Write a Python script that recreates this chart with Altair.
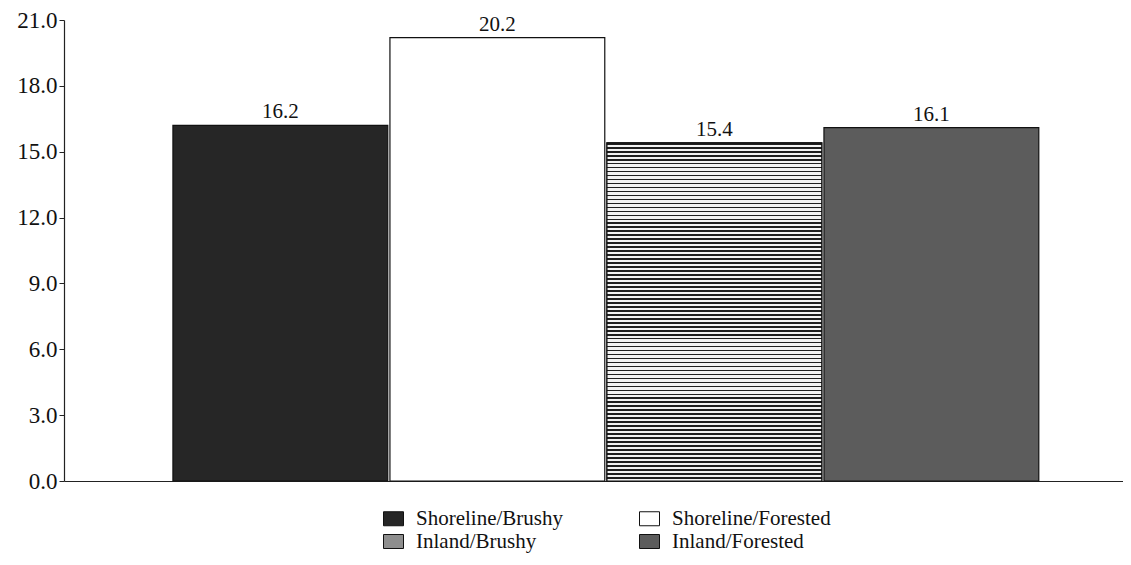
import altair as alt
import pandas as pd

categories = ["Shoreline/Brushy", "Shoreline/Forested", "Inland/Brushy", "Inland/Forested"]
values = [16.2, 20.2, 15.4, 16.1]
fills = ["#262626", "#ffffff", "#8e8e8e", "#5c5c5c"]
y_ticks = [0, 3, 6, 9, 12, 15, 18, 21]

df = pd.DataFrame({"group": categories, "value": values})

FONT = "Liberation Serif"

x_enc = alt.X(
    "group:N",
    sort=categories,
    scale=alt.Scale(paddingInner=0.01, paddingOuter=0.445, align=0.564),
    axis=alt.Axis(labels=False, ticks=False, title=None, domain=True,
                  domainColor="#222222", domainWidth=1.2),
)
y_enc = alt.Y(
    "value:Q",
    scale=alt.Scale(domain=[0, 21], nice=False),
    axis=alt.Axis(values=y_ticks, format=".1f", title=None, grid=False,
                  labelFont=FONT, labelFontSize=23, labelColor="#111111",
                  domainColor="#222222", domainWidth=1.2, tickColor="#222222",
                  tickSize=5, labelPadding=2),
)

bars = alt.Chart(df).mark_bar(stroke="#111111", strokeWidth=1.2).encode(
    x=x_enc,
    y=y_enc,
    color=alt.Color(
        "group:N",
        sort=categories,
        scale=alt.Scale(domain=categories, range=fills),
        legend=alt.Legend(
            title=None, orient="none", legendX=319, legendY=488, columns=2,
            direction="horizontal",
            symbolType="M-1,-0.7L1,-0.7L1,0.7L-1,0.7Z", symbolSize=400,
            symbolStrokeColor="#111111", symbolStrokeWidth=1, symbolOpacity=1,
            labelFont=FONT, labelFontSize=21, labelColor="#111111",
            labelOffset=12, columnPadding=74, rowPadding=1, labelLimit=300,
        ),
    ),
)

# horizontal stripe pattern for Inland/Brushy drawn as a hard-stop gradient
n_stripes = 85
stops = []
for i in range(n_stripes):
    a = i / n_stripes
    m = (i + 0.42) / n_stripes
    b = (i + 1) / n_stripes
    stops += [
        alt.GradientStop(color="#1e1e1e", offset=a),
        alt.GradientStop(color="#1e1e1e", offset=m),
        alt.GradientStop(color="#f2f2f2", offset=m),
        alt.GradientStop(color="#f2f2f2", offset=b),
    ]
stripe = alt.LinearGradient(gradient="linear", stops=stops, x1=0, x2=0, y1=0, y2=1)

striped = alt.Chart(df).transform_filter(
    alt.datum.group == categories[2]
).mark_bar(fill=stripe, stroke="#111111", strokeWidth=1.2).encode(x=x_enc, y=y_enc)

labels = alt.Chart(df).mark_text(
    baseline="bottom", dy=-3, font=FONT, fontSize=21, color="#111111"
).encode(x=x_enc, y=y_enc, text=alt.Text("value:Q", format=".1f"))

chart = alt.layer(bars, striped, labels).properties(
    width=1059, height=461,
    autosize=alt.AutoSizeParams(type="none"),
    padding={"left": 56, "top": 12, "right": 0, "bottom": 76},
    background="white",
).configure_view(stroke=None)

chart.save("out.html", embed_options={"renderer": "svg", "actions": False})
